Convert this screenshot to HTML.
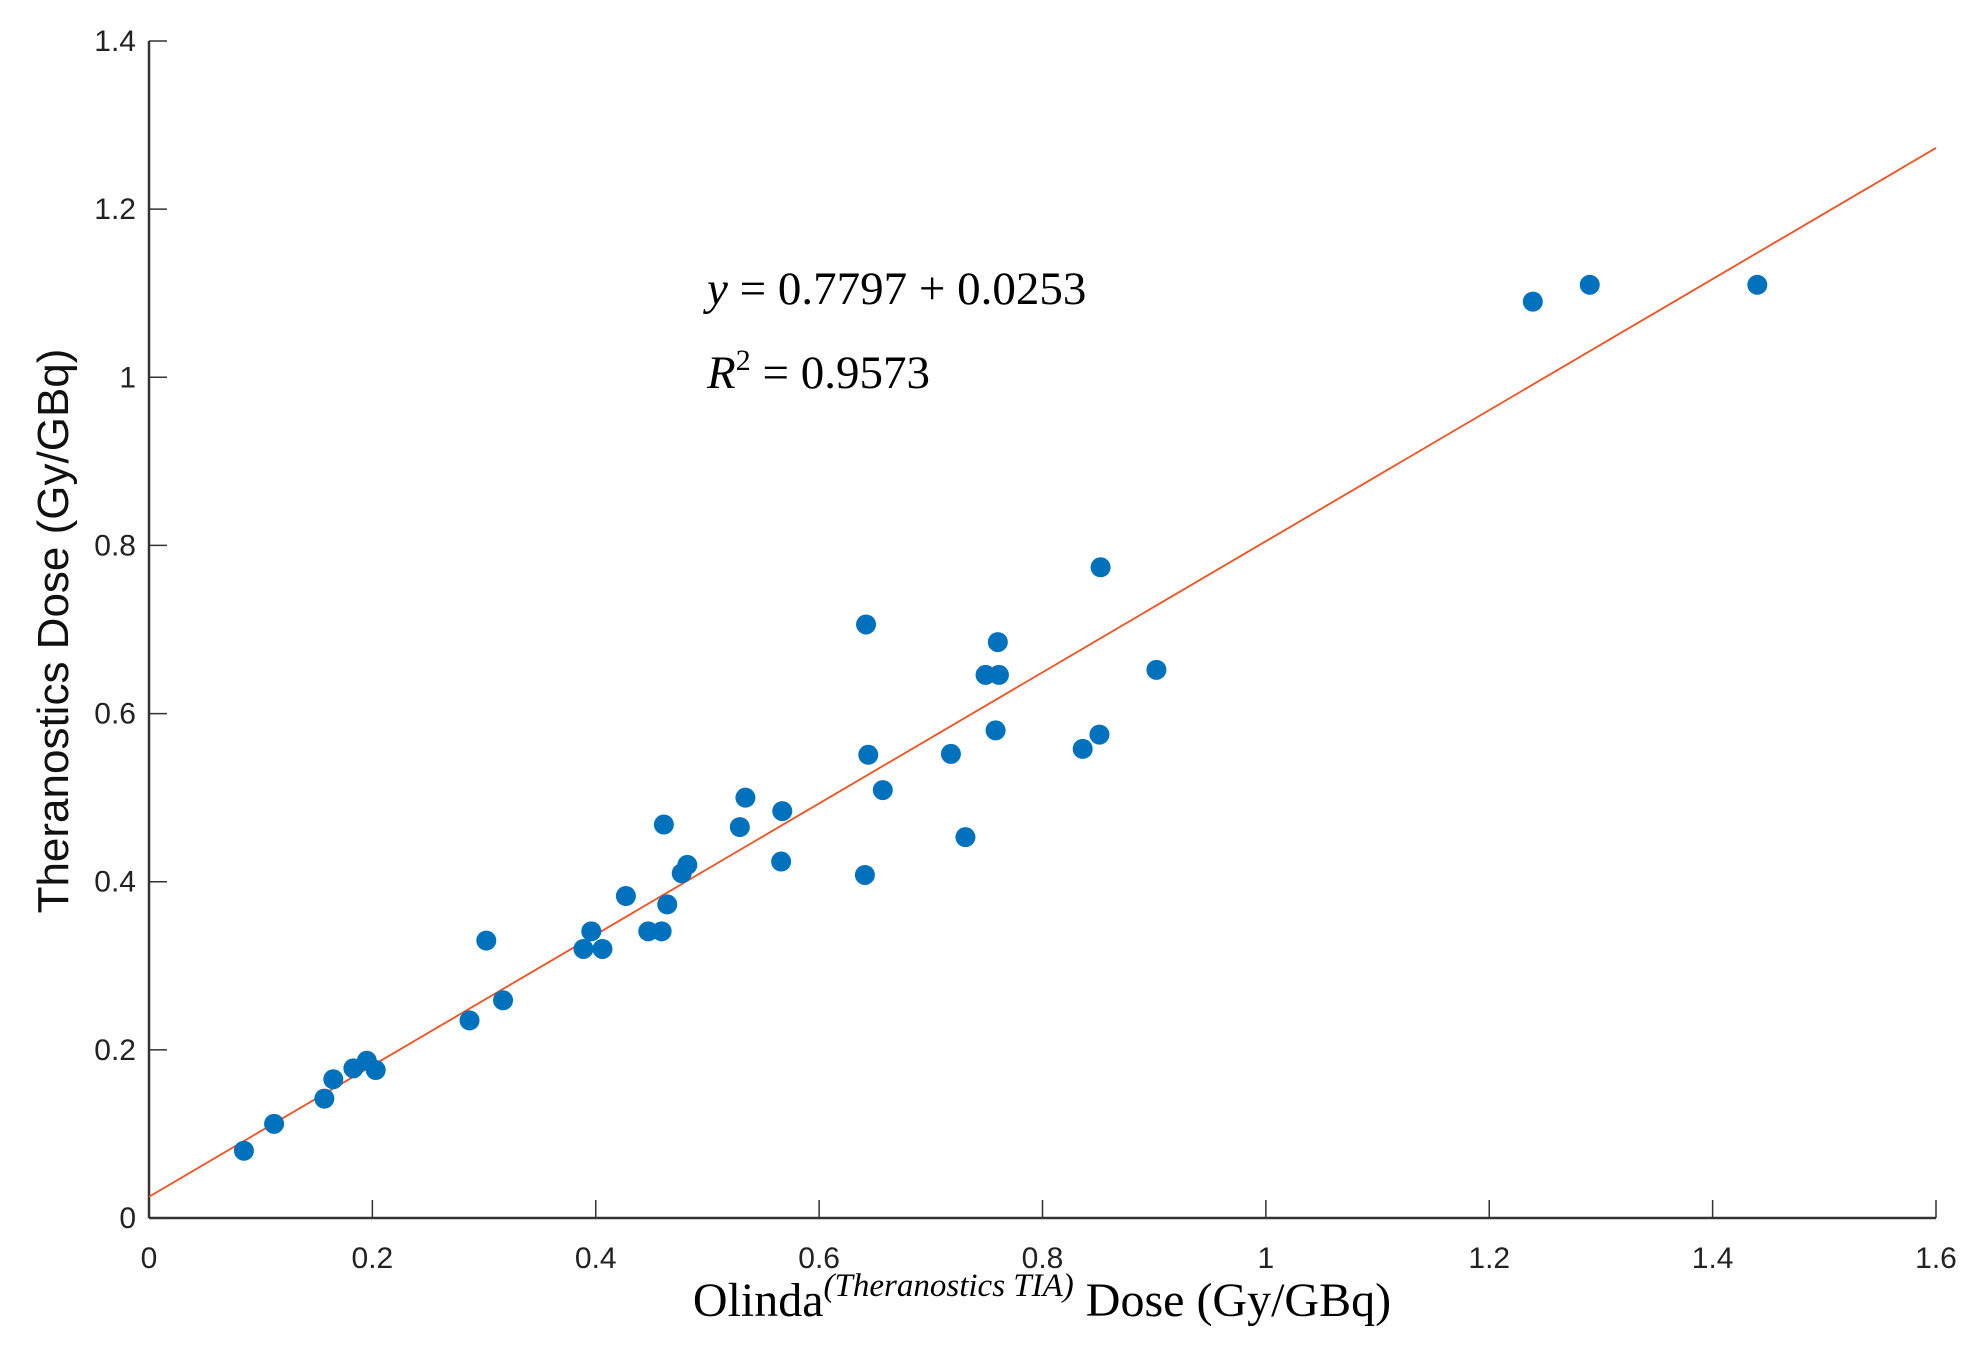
<!DOCTYPE html>
<html><head><meta charset="utf-8"><style>
body{margin:0;background:#fff;}
svg{display:block;}
</style></head><body>
<svg id="chart" width="1987" height="1353" xmlns="http://www.w3.org/2000/svg">
<rect width="1987" height="1353" fill="#fff"/>
<g id="axes"></g>
<g id="marks"></g>
<text x="707" y="304" font-family="Liberation Serif, serif" font-size="47"><tspan font-style="italic">y</tspan> = 0.7797 + 0.0253</text>
<text x="707" y="388" font-family="Liberation Serif, serif" font-size="47"><tspan font-style="italic">R</tspan><tspan font-size="30" dy="-18">2</tspan><tspan dy="18"> = 0.9573</tspan></text>
<text x="1042" y="1316" text-anchor="middle" font-family="Liberation Serif, serif" font-size="48">Olinda<tspan font-size="33" font-style="italic" dy="-20">(Theranostics TIA)</tspan><tspan dy="20"> Dose (Gy/GBq)</tspan></text>
<text transform="translate(68,631) rotate(-90)" text-anchor="middle" font-family="Liberation Sans, sans-serif" font-size="44" fill="#111">Theranostics Dose (Gy/GBq)</text>
</svg>
<script>
const xTicks=[0,0.2,0.4,0.6,0.8,1,1.2,1.4,1.6];
const xTickLabels=["0","0.2","0.4","0.6","0.8","1","1.2","1.4","1.6"];
const yTicks=[0,0.2,0.4,0.6,0.8,1,1.2,1.4];
const yTickLabels=["0","0.2","0.4","0.6","0.8","1","1.2","1.4"];
const xValues=[0.085,0.112,0.157,0.165,0.183,0.195,0.203,0.287,0.302,0.317,0.389,0.396,0.406,0.427,0.447,0.459,0.461,0.464,0.477,0.482,0.529,0.534,0.566,0.567,0.641,0.642,0.644,0.657,0.718,0.731,0.749,0.758,0.76,0.761,0.836,0.851,0.852,0.902,1.239,1.29,1.44];
const yValues=[0.08,0.112,0.142,0.165,0.178,0.187,0.176,0.235,0.33,0.259,0.32,0.341,0.32,0.383,0.341,0.341,0.468,0.373,0.41,0.42,0.465,0.5,0.424,0.484,0.408,0.706,0.551,0.509,0.552,0.453,0.646,0.58,0.685,0.646,0.558,0.575,0.774,0.652,1.09,1.11,1.11];
const fitSlope=0.7797, fitIntercept=0.0253;
const L=149,R=1936,T=41,B=1218;
const sx=v=>L+(v/1.6)*(R-L);
const sy=v=>B-(v/1.4)*(B-T);
const NS="http://www.w3.org/2000/svg";
const axes=document.getElementById('axes'), marks=document.getElementById('marks');
function mk(tag,attrs,parent){const e=document.createElementNS(NS,tag);for(const k in attrs)e.setAttribute(k,attrs[k]);parent.appendChild(e);return e;}
let a=mk('line',{x1:L,y1:B,x2:R,y2:B,stroke:'#333','stroke-width':2.5},axes);


a=mk('line',{x1:L,y1:T,x2:L,y2:B,stroke:'#333','stroke-width':2.5},axes);


xTicks.forEach((v,i)=>{
 const t=mk('line',{x1:sx(v),y1:B,x2:sx(v),y2:B-18,stroke:'#333','stroke-width':1.5},axes);
 
 
 const l=mk('text',{x:sx(v),y:B+50,'text-anchor':'middle','font-family':'Liberation Sans, sans-serif','font-size':30,fill:'#222'},axes);
 l.textContent=xTickLabels[i];
 
 
});
yTicks.forEach((v,i)=>{
 const t=mk('line',{x1:L,y1:sy(v),x2:L+18,y2:sy(v),stroke:'#333','stroke-width':1.5},axes);
 
 
 const l=mk('text',{x:L-13,y:sy(v)+10,'text-anchor':'end','font-family':'Liberation Sans, sans-serif','font-size':30,fill:'#222'},axes);
 l.textContent=yTickLabels[i];
 
 
});
const fl=mk('line',{x1:sx(0),y1:sy(fitIntercept),x2:sx(1.6),y2:sy(fitIntercept+fitSlope*1.6),stroke:'#f5501e','stroke-width':1.8},marks);


xValues.forEach((x,i)=>{
 const c=mk('circle',{cx:sx(x),cy:sy(yValues[i]),r:10,fill:'#0072BD'},marks);
 
 
});
</script>
</body></html>
